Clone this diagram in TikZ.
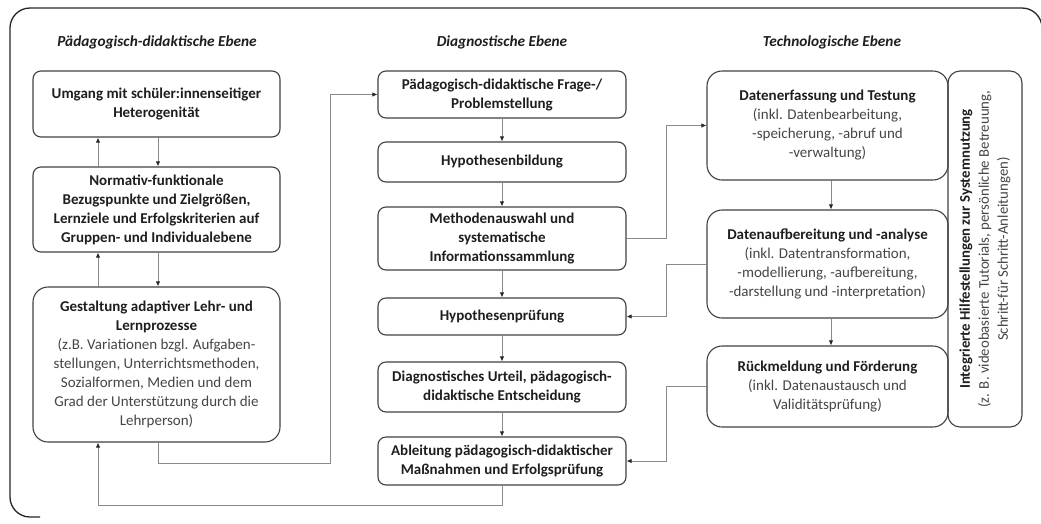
\documentclass[tikz,border=0pt]{standalone}
\usepackage{fontspec}
\setmainfont{Carlito}
\usetikzlibrary{arrows.meta,calc}
\definecolor{boxc}{HTML}{404040}
\definecolor{linec}{HTML}{8A8A8A}
\definecolor{txtb}{HTML}{1E1E1E}
\definecolor{txtr}{HTML}{454545}
\newcommand\myfs{\fontsize{15}{19}\selectfont}
\newcommand\mysfs{\fontsize{14.8}{19}\selectfont}
\newcommand\rg[1]{{\mdseries\color{txtr}#1}}
\tikzset{
  box/.style={draw=boxc, line width=1.1pt, rounded corners=8pt, align=center, inner sep=2pt, font=\myfs\bfseries, text=txtb},
  bigbox/.style={box, rounded corners=15pt},
  arr/.style={draw=linec, line width=0.9pt, -{Latex[length=5pt,width=4.5pt,color=black!85]}},
  head/.style={font=\fontsize{15.3}{17}\selectfont\bfseries\itshape, text=txtb},
  frame/.style={draw=black!85, line width=1.3pt, rounded corners=20pt}
}
\begin{document}
\begin{tikzpicture}[x=1pt,y=-1pt]
\useasboundingbox (0,0) rectangle (1041,523);
% outer frame
\draw[frame] (40,517) -- (10,517) -- (10,8) -- (1042,8) -- (1042,80);
% headings
\node[head] (h1) at (157,42) {Pädagogisch-didaktische Ebene};
\node[head] (h2) at (502,42) {Diagnostische Ebene};
\node[head] (h3) at (832,42) {Technologische Ebene};
% left column
\node[box, minimum width=247pt, minimum height=66pt] (L1) at (156.5,104) {Umgang mit schüler:innenseitiger\\Heterogenität};
\node[box, minimum width=247pt, minimum height=85pt] (L2) at (156.5,209.5) {Normativ-funktionale\\Bezugspunkte und Zielgrößen,\\Lernziele und Erfolgskriterien auf\\Gruppen- und Individualebene};
\node[bigbox, minimum width=247pt, minimum height=155pt] (L3) at (156.5,364.5) {Gestaltung adaptiver Lehr- und\\Lernprozesse\\\rg{(z.B. Variationen bzgl. Aufgaben-}\\\rg{stellungen, Unterrichtsmethoden,}\\\rg{Sozialformen, Medien und dem}\\\rg{Grad der Unterstützung durch die}\\\rg{Lehrperson)}};
% middle column
\node[box, minimum width=248pt, minimum height=47pt] (D1) at (502,94.5) {Pädagogisch-didaktische Frage-/\\Problemstellung};
\node[box, minimum width=248pt, minimum height=40pt] (D2) at (502,162) {Hypothesenbildung};
\node[box, minimum width=248pt, minimum height=63pt] (D3) at (502,238.5) {Methodenauswahl und\\systematische\\Informationssammlung};
\node[box, minimum width=248pt, minimum height=37pt] (D4) at (502,316.5) {Hypothesenprüfung};
\node[box, minimum width=248pt, minimum height=50pt] (D5) at (502,387) {Diagnostisches Urteil, pädagogisch-\\didaktische Entscheidung};
\node[box, minimum width=248pt, minimum height=48pt] (D6) at (502,461) {Ableitung pädagogisch-didaktischer\\Maßnahmen und Erfolgsprüfung};
% right column
\node[bigbox, minimum width=241pt, minimum height=109pt] (T1) at (827.5,125.5) {Datenerfassung und Testung\\\rg{(inkl. Datenbearbeitung,}\\\rg{-speicherung, -abruf und}\\\rg{-verwaltung)}};
\node[bigbox, minimum width=241pt, minimum height=108pt] (T2) at (827.5,264) {Datenaufbereitung und -analyse\\\rg{(inkl. Datentransformation,}\\\rg{-modellierung, -aufbereitung,}\\\rg{-darstellung und -interpretation)}};
\node[bigbox, minimum width=241pt, minimum height=81pt] (T3) at (827.5,386.5) {Rückmeldung und Förderung\\\rg{(inkl. Datenaustausch und}\\\rg{Validitätsprüfung)}};
\node[box, rounded corners=12pt, rotate=90, minimum width=356pt, minimum height=74pt, inner sep=1pt, font=\mysfs\bfseries] (S) at (985,249) {Integrierte Hilfestellungen zur Systemnutzung\\\rg{(z. B. videobasierte Tutorials, persönliche Betreuung,}\\\rg{Schritt-für Schritt-Anleitungen)}};
% helper coordinates
\coordinate (xu) at (98,0);
\coordinate (xd) at (158,0);
\coordinate (c1) at (330,463);
\coordinate (xm) at (666,0);
\coordinate (xt) at (831,0);
% left column arrows
\draw[arr] (L1.south -| xd) -- (L2.north -| xd);
\draw[arr] (L2.north -| xu) -- (L1.south -| xu);
\draw[arr] (L2.south -| xd) -- (L3.north -| xd);
\draw[arr] (L3.north -| xu) -- (L2.south -| xu);
% left to middle
\draw[arr] (L3.south -| xd) |- (c1) |- (D1.west);
% bottom feedback
\draw[arr] (D6.south) -- ++(0,20) -| (L3.south -| xu);
% middle column
\draw[arr] (D1) -- (D2);
\draw[arr] (D2) -- (D3);
\draw[arr] (D3) -- (D4);
\draw[arr] (D4) -- (D5);
\draw[arr] (D5) -- (D6);
% middle to right
\draw[arr] (D3.east) -- (D3.east -| xm) |- (T1.west);
\draw[arr] (T2.west) -- (T2.west -| xm) |- (D4.east);
\draw[arr] (T3.west) -- (T3.west -| xm) |- (D6.east);
% right column
\draw[arr] (T1.south -| xt) -- (T2.north -| xt);
\draw[arr] (T2.south -| xt) -- (T3.north -| xt);
\end{tikzpicture}
\end{document}
